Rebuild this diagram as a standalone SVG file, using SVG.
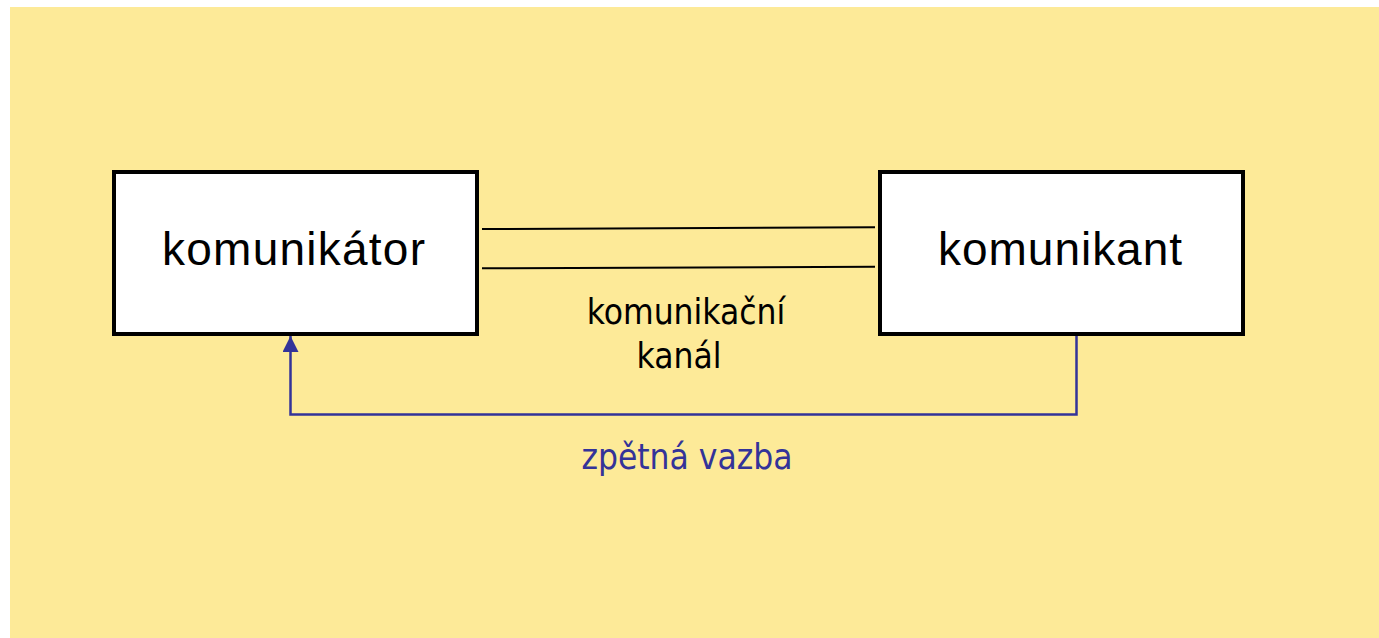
<svg xmlns="http://www.w3.org/2000/svg" width="1379" height="638" viewBox="0 0 1379 638">
<defs>
<style>
.box{fill:#ffffff;stroke:#000000;stroke-width:4}
.boxlabel{font-family:"Liberation Sans",Arial,sans-serif;font-size:46px;fill:#000000}
.label{font-family:"DejaVu Sans Condensed","DejaVu Sans",sans-serif;font-size:35px;fill:#000000}
.fb{fill:#333399}
.chan{stroke:#000000;stroke-width:2;fill:none}
.feed{stroke:#333399;stroke-width:2.5;fill:none}
</style>
<marker id="arrow" markerWidth="16" markerHeight="16" refX="16" refY="8" orient="auto" markerUnits="userSpaceOnUse" viewBox="0 0 16 16">
<path d="M0,0 L16,8 L0,16 Z" fill="#333399"/>
</marker>
</defs>
<rect x="0" y="0" width="1379" height="638" fill="#ffffff"/>
<rect x="10" y="7" width="1369" height="631" fill="#FDEA98"/>
<g id="connectors">
<line class="chan" x1="482" y1="229" x2="875" y2="227.3"/>
<line class="chan" x1="482" y1="268.3" x2="875" y2="266.7"/>
<polyline class="feed" points="1076.5,336 1076.5,414.5 290.5,414.5 290.5,336" marker-end="url(#arrow)"/>
</g>
<g id="komunikator">
<rect class="box" x="114" y="172" width="363" height="162"/>
<text class="boxlabel" x="162" y="265" textLength="263" lengthAdjust="spacing">komunikátor</text>
</g>
<g id="komunikant">
<rect class="box" x="880" y="172" width="363" height="162"/>
<text class="boxlabel" x="938" y="265" textLength="244" lengthAdjust="spacing">komunikant</text>
</g>
<g id="kanal-label">
<text class="label" x="686" y="324" text-anchor="middle">komunikační</text>
<text class="label" x="679" y="368" text-anchor="middle">kanál</text>
</g>
<g id="zpetna-vazba-label">
<text class="label fb" x="687" y="469" text-anchor="middle">zpětná vazba</text>
</g>
</svg>
